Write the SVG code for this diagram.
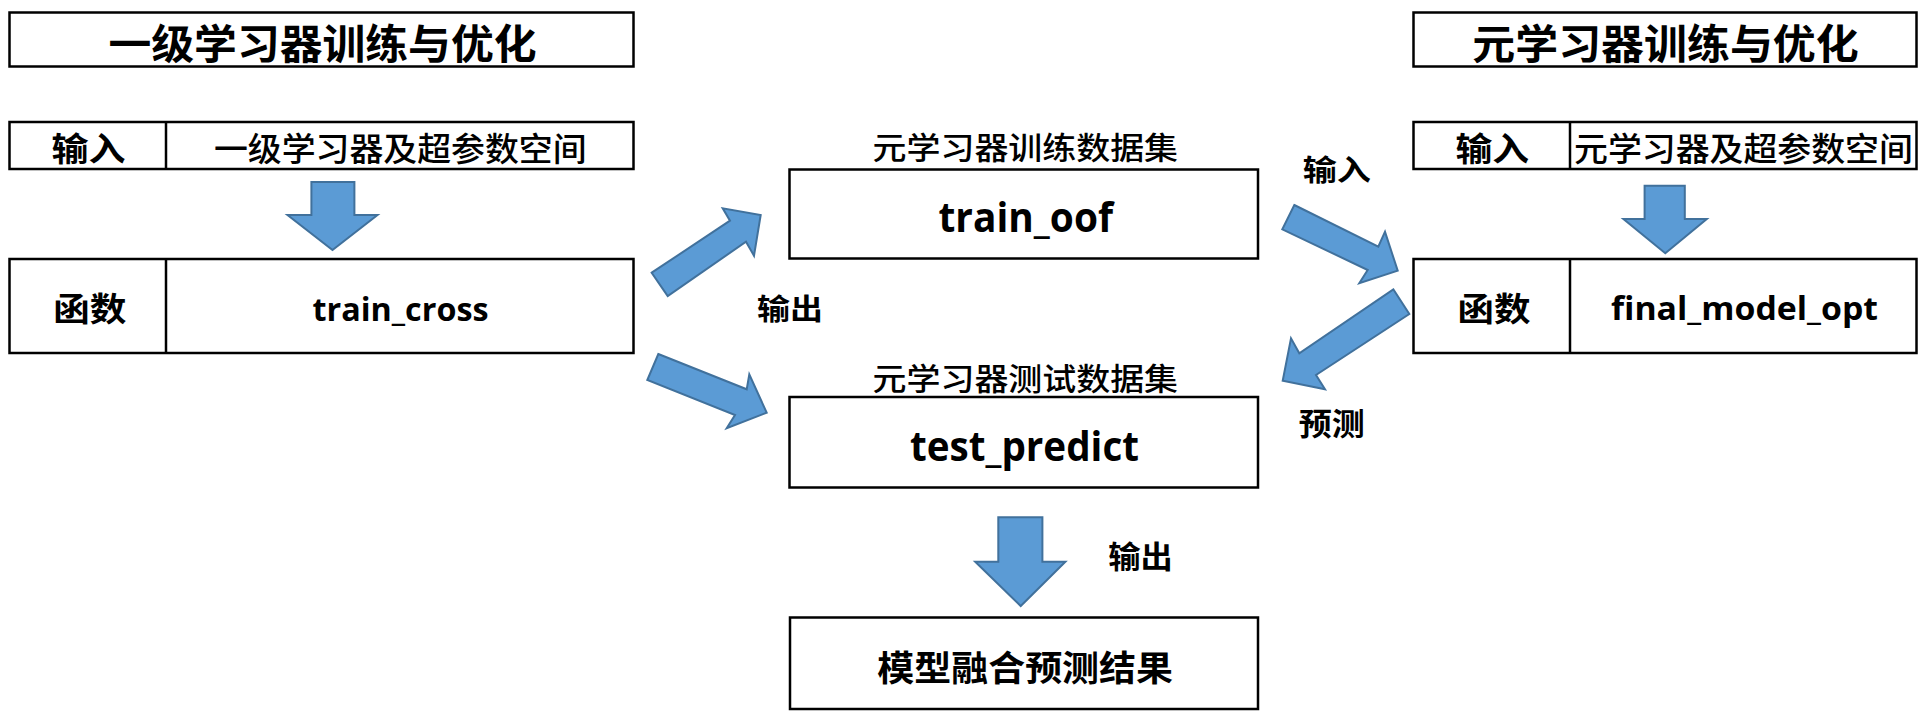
<svg xmlns="http://www.w3.org/2000/svg" width="1924" height="719" viewBox="0 0 1924 719">
<style>
.box{fill:#fff;stroke:#000;stroke-width:2.5}
.div{stroke:#000;stroke-width:2.5}
.arr{fill:#5B9BD5;stroke:#41719C;stroke-width:2;stroke-linejoin:miter}
.cjk{font-family:"Noto Sans CJK SC","Noto Sans",sans-serif;fill:#000;font-weight:500}
.b{font-weight:bold}
.lat{font-family:"Open Sans","Noto Sans","Liberation Sans",sans-serif;font-weight:bold;fill:#000}
</style>
<rect width="1924" height="719" fill="#fff"/>
<g id="left-title">
<rect class="box" x="9.5" y="12.5" width="624" height="54"/>
<text class="cjk b" x="108.5" y="59" font-size="41" textLength="428" lengthAdjust="spacingAndGlyphs">一级学习器训练与优化</text>
</g>
<g id="left-input">
<rect class="box" x="9.5" y="122" width="624" height="47"/>
<line class="div" x1="166" y1="122" x2="166" y2="169"/>
<text class="cjk b" x="51.5" y="160.5" font-size="33" textLength="74" lengthAdjust="spacingAndGlyphs">输入</text>
<text class="cjk" x="214" y="160.5" font-size="33" textLength="372.5" lengthAdjust="spacingAndGlyphs">一级学习器及超参数空间</text>
</g>
<g id="left-func">
<rect class="box" x="9.5" y="259" width="624" height="94"/>
<line class="div" x1="166" y1="259" x2="166" y2="353"/>
<text class="cjk b" x="53.2" y="320.5" font-size="33" textLength="73.2" lengthAdjust="spacingAndGlyphs">函数</text>
<text class="lat" x="312.5" y="321" font-size="32" textLength="176" lengthAdjust="spacingAndGlyphs">train_cross</text>
</g>
<g id="train-oof">
<text class="cjk" x="872.6" y="159" font-size="31" textLength="305.4" lengthAdjust="spacingAndGlyphs">元学习器训练数据集</text>
<rect class="box" x="789.5" y="169.5" width="468.5" height="89"/>
<text class="lat" x="938.5" y="231.7" font-size="41" textLength="174.5" lengthAdjust="spacingAndGlyphs">train_oof</text>
</g>
<g id="test-predict">
<text class="cjk" x="872.6" y="390" font-size="31" textLength="305.4" lengthAdjust="spacingAndGlyphs">元学习器测试数据集</text>
<rect class="box" x="789.5" y="397" width="468.5" height="90.5"/>
<text class="lat" x="910" y="460.7" font-size="41" textLength="229" lengthAdjust="spacingAndGlyphs">test_predict</text>
</g>
<g id="result">
<rect class="box" x="790" y="617.5" width="468" height="91.5"/>
<text class="cjk b" x="877.3" y="680.5" font-size="35" textLength="295.7" lengthAdjust="spacingAndGlyphs">模型融合预测结果</text>
</g>
<g id="right-title">
<rect class="box" x="1413.5" y="12.5" width="503" height="54"/>
<text class="cjk b" x="1472.3" y="59" font-size="41" textLength="386.4" lengthAdjust="spacingAndGlyphs">元学习器训练与优化</text>
</g>
<g id="right-input">
<rect class="box" x="1413.5" y="122" width="503" height="47"/>
<line class="div" x1="1570" y1="122" x2="1570" y2="169"/>
<text class="cjk b" x="1455.5" y="160.5" font-size="33" textLength="73.6" lengthAdjust="spacingAndGlyphs">输入</text>
<text class="cjk" x="1574" y="160.5" font-size="33" textLength="338.9" lengthAdjust="spacingAndGlyphs">元学习器及超参数空间</text>
</g>
<g id="right-func">
<rect class="box" x="1413.5" y="259" width="503" height="94"/>
<line class="div" x1="1570" y1="259" x2="1570" y2="353"/>
<text class="cjk b" x="1457.5" y="320.5" font-size="33" textLength="73" lengthAdjust="spacingAndGlyphs">函数</text>
<text class="lat" x="1611" y="320" font-size="32" textLength="267" lengthAdjust="spacingAndGlyphs">final_model_opt</text>
</g>
<g id="connectors">
<polygon class="arr" points="311.4,182 354.4,182 354.4,215 377.5,215 332.5,250 287.5,215 311.4,215"/>
<polygon class="arr" points="1644.6,185.7 1684.8,185.7 1684.8,219 1706.8,219 1665.3,253.3 1623.4,219 1644.6,219"/>
<polygon class="arr" points="998.3,517.3 1042.4,517.3 1042.4,561.7 1065.4,561.7 1020.7,606 975.2,561.7 998.3,561.7"/>
<polygon class="arr" points="651.7,272.7 730,220.7 722.7,208.3 760.7,215 754,255.7 746,241.7 667.7,296"/>
<polygon class="arr" points="658.3,354 746.7,389.3 749.3,374.3 766.7,412.7 726.7,428.3 735,415 647.3,380"/>
<polygon class="arr" points="1294.3,205 1378.3,246.7 1385,231.7 1397.7,270.7 1359.3,283.3 1367.7,270 1282.3,229.3"/>
<polygon class="arr" points="1393.3,289.3 1409.3,314 1316,375 1325,389.3 1282.7,380.7 1291,338.3 1299.3,353.3"/>
<text class="cjk b" x="757" y="320" font-size="29" textLength="66" lengthAdjust="spacingAndGlyphs">输出</text>
<text class="cjk b" x="1302.7" y="181" font-size="29" textLength="68.2" lengthAdjust="spacingAndGlyphs">输入</text>
<text class="cjk b" x="1298.7" y="434.5" font-size="31" textLength="66" lengthAdjust="spacingAndGlyphs">预测</text>
<text class="cjk b" x="1108.2" y="568" font-size="31" textLength="64.6" lengthAdjust="spacingAndGlyphs">输出</text>
</g>
</svg>
